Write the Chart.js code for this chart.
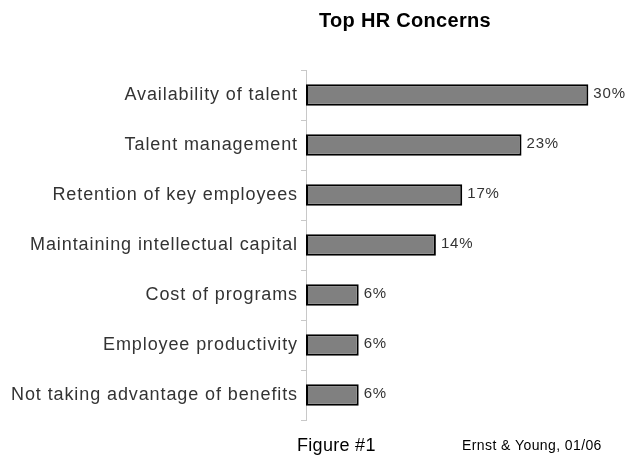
<!DOCTYPE html>
<html><head><meta charset="utf-8">
<script src="https://cdn.jsdelivr.net/npm/chart.js@4/dist/chart.umd.min.js"></script>
<style>html,body{margin:0;padding:0;background:#fff;overflow:hidden}</style>
</head><body>
<canvas id="c" width="630" height="455" style="display:block;width:630px;height:455px"></canvas>
<script>
// ---- data ----
const categories = [
  "Availability of talent",
  "Talent management",
  "Retention of key employees",
  "Maintaining intellectual capital",
  "Cost of programs",
  "Employee productivity",
  "Not taking advantage of benefits"
];
const values = [30, 22.9, 16.6, 13.8, 5.6, 5.6, 5.6];
const valueLabels = ["30%", "23%", "17%", "14%", "6%", "6%", "6%"];
const chartTitle = "Top HR Concerns";
const figureNote = "Figure #1";
const sourceNote = "Ernst & Young, 01/06";
const axisMax = 34;

const FONT = '"Liberation Sans", Arial, sans-serif';

const textPlugin = {
  id: 'textPlugin',
  beforeDraw(chart) {
    chart.ctx.letterSpacing = '0.9px';
  },
  afterDatasetsDraw(chart) {
    const ctx = chart.ctx;
    const meta = chart.getDatasetMeta(0);
    ctx.save();
    ctx.letterSpacing = '0.8px';
    ctx.font = '15px ' + FONT;
    ctx.fillStyle = '#333333';
    ctx.textAlign = 'left';
    ctx.textBaseline = 'alphabetic';
    meta.data.forEach((bar, i) => {
      ctx.fillText(valueLabels[i], bar.x + 5, bar.y + 3);
    });
    ctx.restore();
  },
  afterDraw(chart) {
    const ctx = chart.ctx;
    ctx.save();
    ctx.textBaseline = 'alphabetic';
    ctx.fillStyle = '#000000';
    ctx.letterSpacing = '0.3px';
    ctx.font = 'bold 20px ' + FONT;
    ctx.textAlign = 'center';
    ctx.fillText(chartTitle, 405, 27);
    ctx.textAlign = 'left';
    ctx.letterSpacing = '0.3px';
    ctx.font = '18px ' + FONT;
    ctx.fillText(figureNote, 297, 451);
    ctx.letterSpacing = '0.4px';
    ctx.font = '14px ' + FONT;
    ctx.fillText(sourceNote, 462, 450);
    ctx.restore();
  }
};

new Chart(document.getElementById('c'), {
  type: 'bar',
  data: {
    labels: categories,
    datasets: [{
      data: values,
      backgroundColor: '#808080',
      borderColor: '#000000',
      borderWidth: 2,
      borderSkipped: false,
      categoryPercentage: 1,
      barPercentage: 0.43
    }]
  },
  options: {
    indexAxis: 'y',
    responsive: false,
    animation: false,
    layout: { padding: { top: 70, bottom: 35, left: 0, right: 4 } },
    plugins: { legend: { display: false }, title: { display: false }, tooltip: { enabled: false } },
    scales: {
      x: { display: false, min: 0, max: axisMax },
      y: {
        afterFit(scale) { scale.width = 306; },
        grid: { display: true, drawOnChartArea: false, drawTicks: true, tickLength: 5, color: '#c8c8c8', offset: true },
        border: { display: true, color: '#c8c8c8', width: 1 },
        ticks: { color: '#333333', font: { family: FONT, size: 18 }, padding: 3 }
      }
    }
  },
  plugins: [textPlugin]
});
</script>
</body></html>
